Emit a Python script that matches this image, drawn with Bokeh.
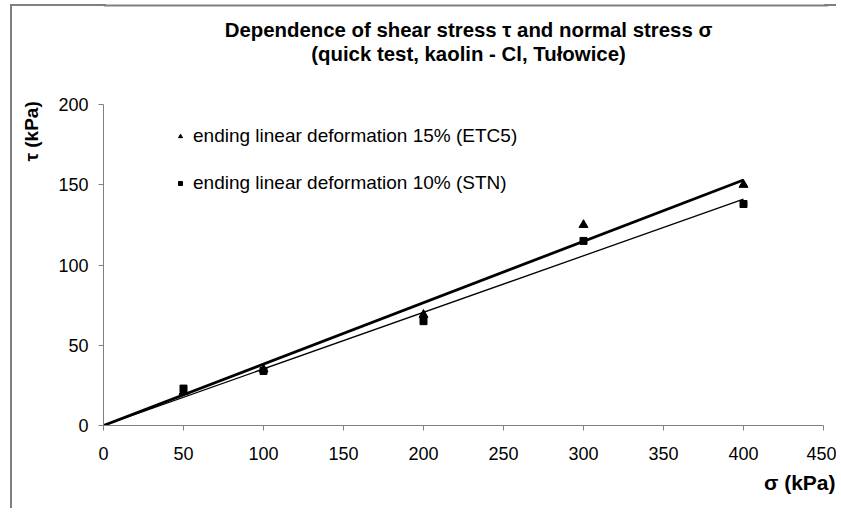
from bokeh.plotting import figure
from bokeh.models import Legend, LegendItem, Range1d, FixedTicker, Title, Label, Span
from bokeh.embed import file_html
from bokeh.resources import INLINE

# ---- data ----
sigma = [50, 100, 200, 300, 400]
tau_etc5 = [21, 35, 69, 125, 150]
tau_stn = [23, 34, 65, 115, 138]
fit_x = [0, 400]
fit_etc5 = [0, 153]
fit_stn = [0, 141]
x_ticks = [0, 50, 100, 150, 200, 250, 300, 350, 400, 450]
y_ticks = [0, 50, 100, 150, 200]
label_etc5 = "ending linear deformation 15% (ETC5)"
label_stn = "ending linear deformation 10% (STN)"
title1 = "Dependence of shear stress \u03c4 and normal stress \u03c3"
title2 = "(quick test, kaolin - Cl, Tu\u0142owice)"
x_label = "\u03c3 (kPa)"
y_label = "\u03c4 (kPa)"

FONT = "Liberation Sans"
W, H = 836, 508
RB = 8  # right border outside the plot frame
# frame in canvas pixels: axes meet at (103, 425); 450 -> 823 px, 200 -> 104 px
FL, FB = 103, 425
X0, X1, PX_X1 = 0, 450, 823
Y0, Y1, PX_Y1 = 0, 200, 104
sx = (PX_X1 - FL) / (X1 - X0)
sy = (FB - PX_Y1) / (Y1 - Y0)
x_end = X1 + (W - RB - PX_X1) / sx
y_end = Y1 + PX_Y1 / sy

def dx(cx):
    return X0 + (cx - FL) / sx

def dy(cy):
    return Y0 + (FB - cy) / sy

p = figure(width=W, height=H, output_backend="svg", toolbar_location=None,
           x_range=Range1d(X0, x_end), y_range=Range1d(Y0, y_end),
           min_border_left=FL, min_border_right=RB,
           min_border_top=0, min_border_bottom=H - FB)
p.outline_line_color = None
p.grid.visible = False
p.background_fill_alpha = 0
p.border_fill_alpha = 0
# chart-area border (grey, top and left) outside the plot frame
p.styles = {
    "background-color": "white",
    "background-image": "linear-gradient(#808080, #808080), linear-gradient(#808080, #808080), linear-gradient(#808080, #808080)",
    "background-size": "96px 2px, 2px 100%, 12px 2px",
    "background-position": "10px 4px, 10px 4px, right 0px top 4px",
    "background-repeat": "no-repeat, no-repeat, no-repeat",
}
p.add_layout(Span(location=dy(5), dimension="width", line_color="#808080",
                  line_width=2))

for ax in (p.xaxis[0], p.yaxis[0]):
    ax.axis_line_color = "#808080"
    ax.major_tick_line_color = "#808080"
    ax.minor_tick_line_color = None
    ax.major_tick_in = 0
    ax.major_tick_out = 5
    ax.major_label_text_font = FONT
    ax.major_label_text_font_size = "18px"
    ax.major_label_text_color = "black"
p.xaxis.ticker = FixedTicker(ticks=x_ticks)
p.yaxis.ticker = FixedTicker(ticks=y_ticks)
p.xaxis.bounds = (X0, X1)
p.yaxis.bounds = (Y0, Y1)
p.xaxis.major_label_standoff = 16
p.yaxis.major_label_standoff = 10

l1 = p.line(fit_x, fit_etc5, line_color="black", line_width=2.8)
l2 = p.line(fit_x, fit_stn, line_color="black", line_width=1.3)
r1 = p.scatter(sigma, tau_etc5, marker="triangle", size=9, color="black")
r2 = p.scatter(sigma, tau_stn, marker="square", size=7, color="black")

legend = Legend(items=[LegendItem(label=label_etc5, renderers=[r1]),
                       LegendItem(label=label_stn, renderers=[r2])],
                location=(72, 231), orientation="vertical",
                glyph_width=10, glyph_height=20, label_height=20,
                label_standoff=8, spacing=25, padding=0, margin=0,
                border_line_color=None, background_fill_alpha=0,
                label_text_font=FONT, label_text_font_size="19px",
                label_text_color="black")
p.add_layout(legend, "center")

tstyle = dict(text_font=FONT, text_font_style="bold", text_color="black")
p.add_layout(Label(x=dx(468), y=dy(29), text=title1, text_align="center",
                   text_baseline="alphabetic", text_font_size="20.4px", **tstyle))
p.add_layout(Label(x=dx(468), y=dy(53), text=title2, text_align="center",
                   text_baseline="alphabetic", text_font_size="20.4px", **tstyle))

ty = Title(text=y_label, align="left", offset=264, standoff=28,
           text_font_size="19px", **tstyle)
p.add_layout(ty, "left")
tx = Title(text=x_label, align="right", offset=-7, standoff=16,
           vertical_align="top", text_font_size="21px", **tstyle)
p.add_layout(tx, "below")

open("out.html", "w").write(file_html(p, INLINE))
